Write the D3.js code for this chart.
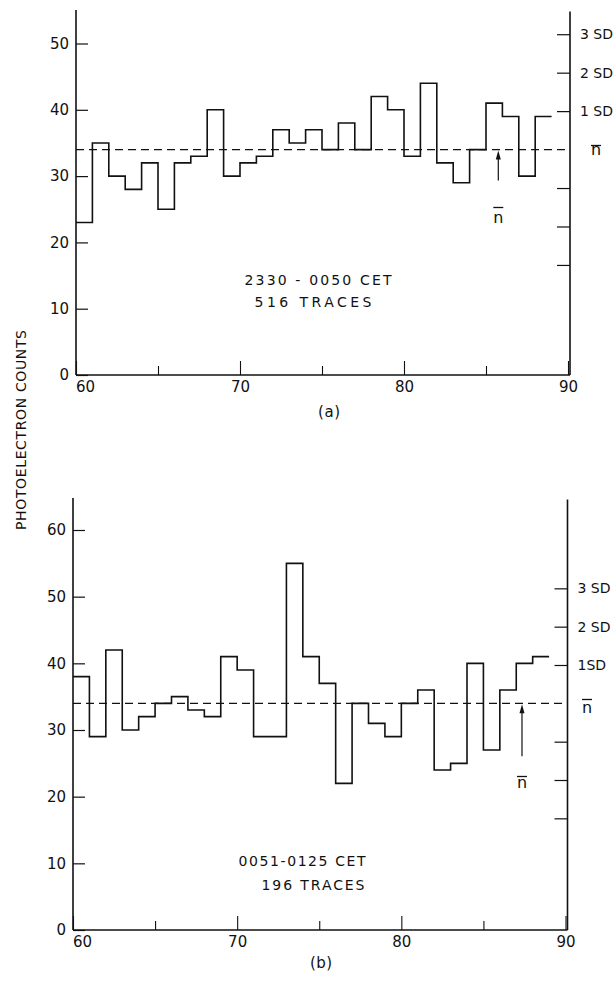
<!DOCTYPE html>
<html>
<head>
<meta charset="utf-8">
<script src="https://cdn.jsdelivr.net/npm/d3@7"></script>
<style>
  html, body { margin: 0; padding: 0; background: #fff; }
  svg { display: block; }
  text { font-family: "DejaVu Sans", "Liberation Sans", sans-serif; fill: #111; }
</style>
</head>
<body>
<svg id="chart" width="616" height="983"></svg>
<script>
// ---------------- data ----------------
const binStart = 60;                 // first bin left edge
const binWidth = 1;
const countsA = [23,35,30,28,32,25,32,33,40,30,32,33,37,35,37,34,38,34,42,40,33,44,32,29,34,41,39,30,39];
const countsB = [38,29,42,30,32,34,35,33,32,41,39,29,29,55,41,37,22,34,31,29,34,36,24,25,40,27,36,40,41];
const meanA = 34, sdA = 5.8;
const meanB = 34, sdB = 5.75;
const xTickMajor = [60, 70, 80, 90];
const xTickMinor = [65, 75, 85];
const yTicksA = [0, 10, 20, 30, 40, 50];
const yTicksB = [0, 10, 20, 30, 40, 50, 60];
const sdSteps = [3, 2, 1, -1, -2, -3];
const sdLabelsA = ["3 SD", "2 SD", "1 SD", "", "", ""];
const sdLabelsB = ["3 SD", "2 SD", "1SD", "", "", ""];
const annotA = ["2330 - 0050 CET", "516 TRACES"];
const annotB = ["0051-0125 CET", "196 TRACES"];
const arrowXA = 85.75, arrowXB = 87.35;
const panelLabels = ["(a)", "(b)"];
const yTitle = "PHOTOELECTRON COUNTS";

// ---------------- layout ----------------
const svg = d3.select("#chart");

const panels = [
  { counts: countsA, mean: meanA, sd: sdA, yTicks: yTicksA, sdLabels: sdLabelsA, annot: annotA, arrowX: arrowXA, label: panelLabels[0],
    xRange: [76, 568], yDomain: [0, 50], yRange: [375, 43.5], top: 10,
    annotPos: [{x: 318, y: 284.5, w: 147}, {x: 313, y: 307, w: 117}],
    arrowLen: 31, nLabelBase: 223, nBarY: 207.5,
    rightN: {x: 596, base: 155, bar: 145.5}, sdLabelX: 10, labelPos: {x: 329, y: 417} },
  { counts: countsB, mean: meanB, sd: sdB, yTicks: yTicksB, sdLabels: sdLabelsB, annot: annotB, arrowX: arrowXB, label: panelLabels[1],
    xRange: [73, 565.5], yDomain: [0, 60], yRange: [930, 530], top: 498,
    annotPos: [{x: 302, y: 866, w: 127}, {x: 313, y: 889.5, w: 103}],
    arrowLen: 53, nLabelBase: 788, nBarY: 776.5,
    rightN: {x: 587, base: 713, bar: 699.5}, sdLabelX: 10, labelPos: {x: 321, y: 968} }
];

panels.forEach(p => {
  const x = d3.scaleLinear().domain([60, 90]).range(p.xRange);
  const y = d3.scaleLinear().domain(p.yDomain).range(p.yRange);
  const g = svg.append("g");
  const y0 = y(0);

  // left axis line + ticks
  g.append("line").attr("x1", x(60)).attr("x2", x(60)).attr("y1", p.top).attr("y2", y0)
    .attr("stroke", "#111").attr("stroke-width", 1.6);
  const leftAxis = d3.axisLeft(y).tickValues(p.yTicks).tickSize(-12).tickPadding(7).tickFormat(d3.format("d"));
  const la = g.append("g").attr("transform", `translate(${x(60)},0)`).call(leftAxis);
  la.select(".domain").remove();
  la.selectAll(".tick line").attr("stroke", "#111").attr("stroke-width", 1.2);
  la.selectAll(".tick text").style("font-size", "15px").attr("fill", "#111");

  // right axis line + SD ticks
  const xr = x(90) + 2;
  g.append("line").attr("x1", xr).attr("x2", xr).attr("y1", p.top + 1.5).attr("y2", y0)
    .attr("stroke", "#111").attr("stroke-width", 1.6);
  const sdVals = sdSteps.map(k => p.mean + k * p.sd);
  const rightAxis = d3.axisRight(y).tickValues(sdVals).tickSize(-13).tickPadding(p.sdLabelX)
    .tickFormat((d, i) => p.sdLabels[i]);
  const ra = g.append("g").attr("transform", `translate(${xr},0)`).call(rightAxis);
  ra.select(".domain").remove();
  ra.selectAll(".tick line").attr("stroke", "#111").attr("stroke-width", 1.2);
  ra.selectAll(".tick text").style("font-size", "14px").attr("fill", "#111");

  // right n-bar label
  g.append("text").attr("x", p.rightN.x).attr("y", p.rightN.base).attr("text-anchor", "middle")
    .style("font-size", "16px").text("n");
  g.append("line").attr("x1", p.rightN.x - 5).attr("x2", p.rightN.x + 5)
    .attr("y1", p.rightN.bar).attr("y2", p.rightN.bar).attr("stroke", "#111").attr("stroke-width", 1.3);

  // bottom axis
  g.append("line").attr("x1", x(60)).attr("x2", xr).attr("y1", y0).attr("y2", y0)
    .attr("stroke", "#111").attr("stroke-width", 1.6);
  const bottomMajor = d3.axisBottom(x).tickValues(xTickMajor).tickSize(-14).tickPadding(6).tickFormat(d3.format("d"));
  const bm = g.append("g").attr("transform", `translate(0,${y0})`).call(bottomMajor);
  bm.select(".domain").remove();
  bm.selectAll(".tick line").attr("stroke", "#111").attr("stroke-width", 1.1);
  bm.selectAll(".tick text").style("font-size", "15px").attr("fill", "#111")
    .attr("dx", d => d === 60 ? 9 : 0);
  const bottomMinor = d3.axisBottom(x).tickValues(xTickMinor).tickSize(-9).tickFormat("");
  const bn = g.append("g").attr("transform", `translate(0,${y0})`).call(bottomMinor);
  bn.select(".domain").remove();
  bn.selectAll(".tick line").attr("stroke", "#111").attr("stroke-width", 1.1);

  // mean dashed line
  g.append("line").attr("x1", x(60)).attr("x2", xr).attr("y1", y(p.mean)).attr("y2", y(p.mean))
    .attr("stroke", "#111").attr("stroke-width", 1.3).attr("stroke-dasharray", "8,5");

  // step histogram
  const pts = p.counts.map((c, i) => [binStart + i * binWidth, c]);
  pts.push([binStart + p.counts.length * binWidth, p.counts[p.counts.length - 1]]);
  const line = d3.line().x(d => x(d[0])).y(d => y(d[1])).curve(d3.curveStepAfter);
  g.append("path").datum(pts).attr("d", line).attr("fill", "none")
    .attr("stroke", "#111").attr("stroke-width", 1.6);

  // arrow to mean
  const ax = x(p.arrowX), ay = y(p.mean);
  g.append("line").attr("x1", ax).attr("x2", ax).attr("y1", ay + 6).attr("y2", ay + p.arrowLen)
    .attr("stroke", "#111").attr("stroke-width", 1.2);
  g.append("path").attr("d", `M${ax},${ay + 1} L${ax - 2.5},${ay + 10} L${ax + 2.5},${ay + 10} Z`)
    .attr("fill", "#111");
  g.append("text").attr("x", ax).attr("y", p.nLabelBase).attr("text-anchor", "middle")
    .style("font-size", "16px").text("n");
  g.append("line").attr("x1", ax - 5).attr("x2", ax + 5).attr("y1", p.nBarY).attr("y2", p.nBarY)
    .attr("stroke", "#111").attr("stroke-width", 1.3);

  // annotations
  p.annot.forEach((t, i) => {
    const a = p.annotPos[i];
    g.append("text").attr("x", a.x).attr("y", a.y).attr("text-anchor", "middle")
      .attr("textLength", a.w).attr("lengthAdjust", "spacing")
      .style("font-size", "14px").text(t);
  });

  // panel label
  g.append("text").attr("x", p.labelPos.x).attr("y", p.labelPos.y).attr("text-anchor", "middle")
    .attr("textLength", 22).attr("lengthAdjust", "spacing")
    .style("font-size", "15px").text(p.label);
});

// y title
svg.append("text")
  .attr("transform", "translate(26,430) rotate(-90)")
  .attr("text-anchor", "middle")
  .attr("textLength", 200).attr("lengthAdjust", "spacing")
  .style("font-size", "14px")
  .text(yTitle);
</script>
</body>
</html>
